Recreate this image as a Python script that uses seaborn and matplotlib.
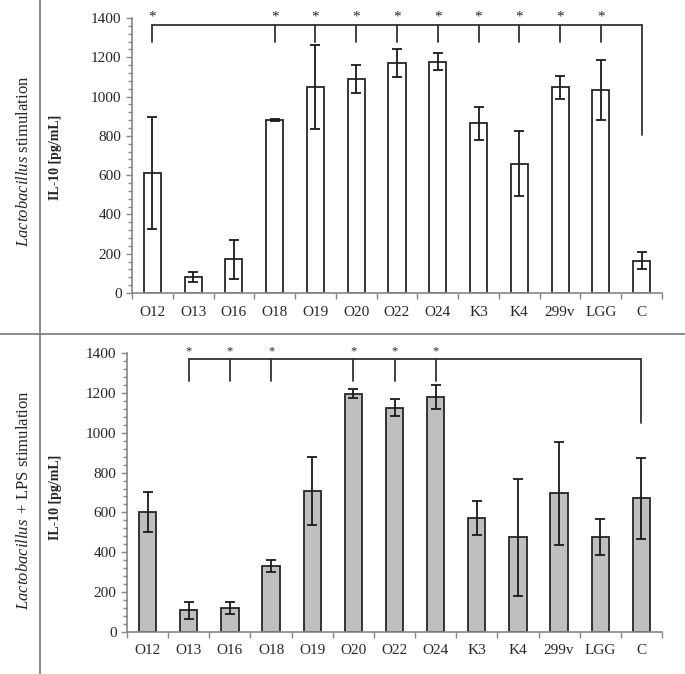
import matplotlib
matplotlib.use('Agg')
import matplotlib.pyplot as plt
from matplotlib.lines import Line2D
from matplotlib.ticker import MultipleLocator, FixedLocator
import seaborn as sns
import pandas as pd
import numpy as np

strains = ['O12', 'O13', 'O16', 'O18', 'O19', 'O20', 'O22', 'O24', 'K3', 'K4', '299v', 'LGG', 'C']

# IL-10 [pg/mL], Lactobacillus stimulation
il10_lacto = [610, 82, 171, 883, 1049, 1090, 1170, 1178, 864, 659, 1047, 1032, 165]
il10_lacto_err = [284, 24, 100, 5, 212, 72, 70, 45, 84, 166, 57, 152, 43]

# IL-10 [pg/mL], Lactobacillus + LPS stimulation
il10_lps = [602, 108, 122, 329, 708, 1196, 1126, 1178, 573, 475, 695, 476, 671]
il10_lps_err = [100, 45, 31, 30, 169, 21, 41, 60, 85, 293, 256, 91, 204]

# strains significantly different from control C
sig_lacto = ['O12', 'O18', 'O19', 'O20', 'O22', 'O24', 'K3', 'K4', '299v', 'LGG']
sig_lps = ['O13', 'O16', 'O18', 'O20', 'O22', 'O24']

sns.set_style('ticks')
plt.rcParams['font.family'] = ['Liberation Serif', 'DejaVu Serif']
plt.rcParams['mathtext.fontset'] = 'custom'
plt.rcParams['mathtext.it'] = 'Liberation Serif:italic'
plt.rcParams['mathtext.rm'] = 'Liberation Serif'

W, H = 685, 674
fig = plt.figure(figsize=(W / 100, H / 100), dpi=100)


def px_axes(left, right, top, bottom):
    return fig.add_axes([left / W, 1 - bottom / H, (right - left) / W, (bottom - top) / H])


def draw_panel(ax, values, errors, colour, sig, line_y, drop_y, ctrl_y, star_size):
    df = pd.DataFrame({'strain': strains, 'IL10': values})
    sns.barplot(data=df, x='strain', y='IL10', color=colour, saturation=1, edgecolor='#262626',
                linewidth=1.3, width=0.42, errorbar=None, ax=ax)
    ax.errorbar(np.arange(len(strains)), values, yerr=errors, fmt='none', ecolor='#1a1a1a',
                elinewidth=1.3, capsize=3.5, capthick=1.3)

    # significance bracket to the control
    idx = [strains.index(s) for s in sig]
    ctrl = strains.index('C')
    ax.plot([idx[0], ctrl], [line_y, line_y], color='#333333', lw=1.3, clip_on=False)
    for i in idx:
        ax.plot([i, i], [line_y, drop_y], color='#333333', lw=1.3, clip_on=False)
        ax.text(i, line_y + 8, '*', ha='center', va='bottom', fontsize=star_size, clip_on=False)
    ax.plot([ctrl, ctrl], [line_y, ctrl_y], color='#333333', lw=1.3, clip_on=False)

    ax.set_xlim(-0.5, len(strains) - 0.5)
    ax.set_ylim(0, 1400)
    ax.set_xlabel('')
    ax.set_ylabel('')
    ax.yaxis.set_major_locator(MultipleLocator(200))
    ax.yaxis.set_minor_locator(MultipleLocator(40))
    ax.xaxis.set_minor_locator(FixedLocator(np.arange(-0.5, len(strains), 1.0)))
    ax.tick_params(axis='x', which='major', length=0, labelsize=11, pad=9)
    ax.tick_params(axis='x', which='minor', length=4, color='#868686', width=1)
    ax.tick_params(axis='y', which='major', length=4.5, color='#868686', width=1, labelsize=11, pad=3)
    ax.tick_params(axis='y', which='minor', length=3, color='#868686', width=1)
    sns.despine(ax=ax)
    for side in ['left', 'bottom']:
        ax.spines[side].set_color('#868686')
        ax.spines[side].set_linewidth(1.2)


ax_top = px_axes(132, 662, 18, 293)
draw_panel(ax_top, il10_lacto, il10_lacto_err, 'white', sig_lacto, 1365, 1276, 803, 11)

ax_bot = px_axes(127, 662, 353, 632)
draw_panel(ax_bot, il10_lps, il10_lps_err, '#bfbfbf', sig_lps, 1370, 1258, 1050, 9)

# panel labels
fig.text(55 / W, 1 - 157 / H, 'IL-10 [pg/mL]', rotation=90, ha='center', va='center',
         fontsize=10, fontweight='bold')
fig.text(55 / W, 1 - 497 / H, 'IL-10 [pg/mL]', rotation=90, ha='center', va='center',
         fontsize=10, fontweight='bold')
fig.text(24 / W, 1 - 161 / H, r'$Lactobacillus$ stimulation', rotation=90, ha='center',
         va='center', fontsize=12)
fig.text(24 / W, 1 - 500 / H, r'$Lactobacillus\,$ + LPS stimulation', rotation=90, ha='center',
         va='center', fontsize=12)

# table frame lines
fig.add_artist(Line2D([40 / W, 40 / W], [0, 1], color='#7f7f7f', lw=1.3))
fig.add_artist(Line2D([0, 1], [1 - 334 / H, 1 - 334 / H], color='#7f7f7f', lw=1.3))

fig.savefig('out.png', dpi=100)
